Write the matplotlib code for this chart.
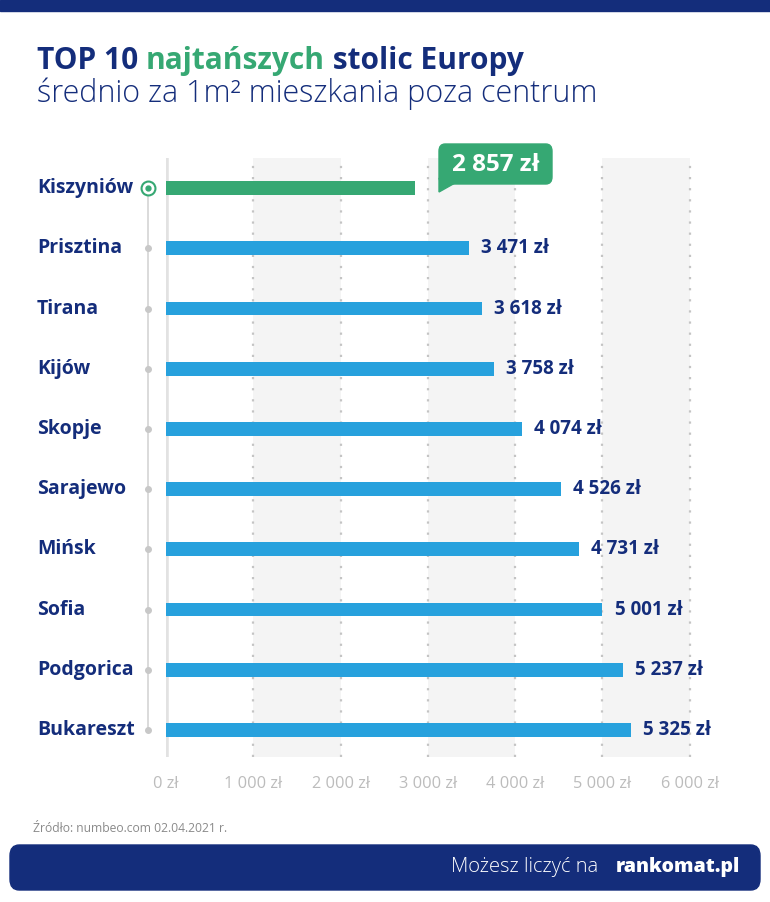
import matplotlib
matplotlib.use("Agg")
import matplotlib.pyplot as plt
import matplotlib.transforms as mtransforms
from matplotlib.patches import FancyBboxPatch, Rectangle, Polygon

plt.rcParams['font.family'] = ['Open Sans', 'DejaVu Sans']

# dane
cities = ["Kiszyniów", "Prisztina", "Tirana", "Kijów", "Skopje",
          "Sarajewo", "Mińsk", "Sofia", "Podgorica", "Bukareszt"]
values = [2857, 3471, 3618, 3758, 4074, 4526, 4731, 5001, 5237, 5325]
ticks = [0, 1000, 2000, 3000, 4000, 5000, 6000]
tick_labels = ["0 zł", "1 000 zł", "2 000 zł", "3 000 zł", "4 000 zł", "5 000 zł", "6 000 zł"]
bands = [(1000, 2000), (3000, 4000), (5000, 6000)]

NAVY = "#142d7b"
GREEN = "#36a873"
BLUE = "#27a1dd"
GRAY_TXT = "#bcbcbc"

W, H = 770, 902
fig = plt.figure(figsize=(W / 100, H / 100), dpi=100)


def fx(px):
    return px / W


def fy(py):
    return 1 - py / H


# górny pasek
fig.patches.append(Rectangle((0, fy(11)), 1, 11 / H, transform=fig.transFigure,
                             color=NAVY, zorder=0))

# tytuł w kilku kolorach
fig.canvas.draw()
renderer = fig.canvas.get_renderer()
x = fx(37)
for part, col in [("TOP 10 ", NAVY), ("najtańszych", GREEN), (" stolic Europy", NAVY)]:
    t = fig.text(x, fy(61), part, color=col, fontsize=21.5, fontweight="bold",
                 va="center", ha="left")
    bb = t.get_window_extent(renderer=renderer)
    x += bb.width / W
fig.text(fx(37), fy(94), "średnio za 1m² mieszkania poza centrum", color=NAVY,
         fontsize=22, fontweight="light", va="center", ha="left")

# wykres
top_px, bot_px = 158, 757
left_px, right_px = 166, 742
ax = fig.add_axes([fx(left_px), fy(bot_px), fx(right_px - left_px), (bot_px - top_px) / H])
ax.set_xlim(0, 6600)
ax.set_ylim(len(cities) - 0.55, -0.5)

for a, b in bands:
    ax.axvspan(a, b, color="#f4f4f4", lw=0, zorder=0)
for t in ticks[1:]:
    ax.axvline(t, color="#c4c4c4", lw=1.6, ls=(0, (1, 4)), zorder=1)
ax.axvline(0, color="#e2e2e2", lw=4, zorder=1)

ypos = list(range(len(cities)))
colors = [GREEN] + [BLUE] * (len(cities) - 1)
ax.barh(ypos, values, height=0.23, color=colors, zorder=3)

for s in ax.spines.values():
    s.set_visible(False)
ax.set_yticks([])
ax.set_xticks(ticks)
ax.set_xticklabels(tick_labels, color=GRAY_TXT, fontsize=11.8)
ax.tick_params(axis="x", length=0, pad=14)

trans = mtransforms.blended_transform_factory(fig.transFigure, ax.transData)
for i, (c, v) in enumerate(zip(cities, values)):
    ax.text(fx(37), i, c, transform=trans, ha="left", va="center",
            color=NAVY, fontsize=14, fontweight="bold")
    if i > 0:
        ax.text(v + 140, i, f"{v:,} zł".replace(",", " "), ha="left", va="center",
                color=NAVY, fontsize=13.5, fontweight="bold", zorder=4)

# oś z kropkami po lewej
ax.plot([fx(148), fx(148)], [0, len(cities) - 1], transform=trans, color="#d4d4d4",
        lw=1.2, clip_on=False, zorder=2)
ax.plot([fx(148)] * (len(cities) - 1), ypos[1:], "o", transform=trans, color="#c8c8c8",
        ms=4, clip_on=False, zorder=3)
ax.plot([fx(148)], [0], "o", transform=trans, ms=10, mfc="white", mec=GREEN, mew=1.5,
        clip_on=False, zorder=4)
ax.plot([fx(148)], [0], "o", transform=trans, ms=3.5, color=GREEN, clip_on=False, zorder=5)

# dymek z wartością
bx0, bx1, by0, by1 = 439, 552, 144, 184
fig.patches.append(FancyBboxPatch((fx(bx0), fy(by1)), fx(bx1 - bx0), (by1 - by0) / H,
                                  boxstyle="round,pad=0,rounding_size=0.008",
                                  transform=fig.transFigure, color=GREEN, zorder=5))
fig.patches.append(Polygon([(fx(bx0), fy(by1 - 6)), (fx(bx0 + 16), fy(by1 - 1)),
                            (fx(bx0), fy(by1 + 8))], closed=True,
                           transform=fig.transFigure, color=GREEN, zorder=5))
fig.text(fx((bx0 + bx1) / 2), fy((by0 + by1) / 2 + 1),
         f"{values[0]:,} zł".replace(",", " "), color="white", fontsize=17.5,
         fontweight="bold", ha="center", va="center", zorder=6)

# źródło
fig.text(fx(33), fy(828), "Źródło: numbeo.com 02.04.2021 r.", color="#8a8a8a",
         fontsize=8.7, ha="left", va="center")

# stopka
fig.patches.append(FancyBboxPatch((fx(10), fy(890)), fx(750), 45 / H,
                                  boxstyle="round,pad=0,rounding_size=0.012",
                                  transform=fig.transFigure, color=NAVY, zorder=1))
fig.text(fx(598), fy(867), "Możesz liczyć na", color="white", fontsize=14.5,
         fontweight="light", ha="right", va="center")
fig.text(fx(740), fy(867), "rankomat.pl", color="white", fontsize=14,
         fontweight="heavy", ha="right", va="center")

fig.savefig("out.png", dpi=100)
